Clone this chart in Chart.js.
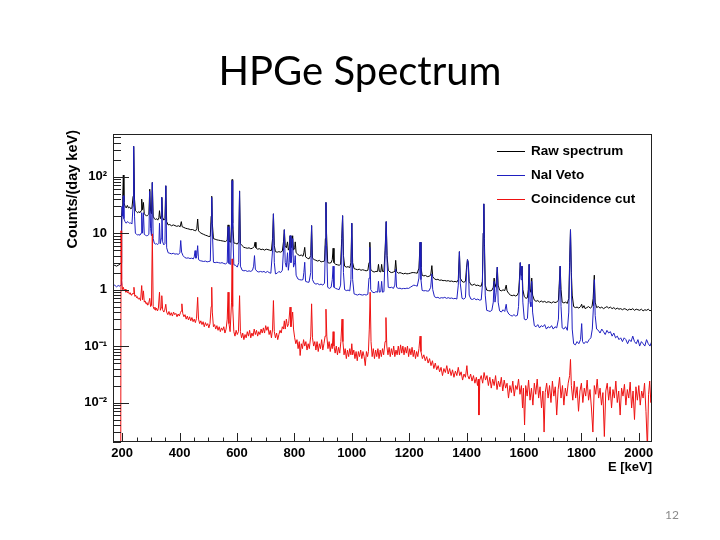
<!DOCTYPE html>
<html>
<head>
<meta charset="utf-8">
<script src="https://cdn.jsdelivr.net/npm/chart.js@4.4.1/dist/chart.umd.min.js"></script>
<style>
  html, body { margin: 0; padding: 0; background: #fff; }
  #slide { position: relative; width: 720px; height: 540px; overflow: hidden; }
  #chart-box { position: absolute; left: 0; top: 0; width: 720px; height: 540px; }
  #title { position: absolute; left: 0; top: 46px; width: 720px; text-align: center;
           font-family: Lato, "Open Sans", sans-serif; font-size: 40px; line-height: 48px; color: #000; }
  #page { position: absolute; right: 41px; top: 508px; font-family: Lato, sans-serif;
          font-size: 12px; line-height: 14px; color: #8a8a8a; }
</style>
</head>
<body>
<div id="slide">
  <div id="chart-box"><canvas id="spectrum"></canvas></div>
  <div id="title">HPGe Spectrum</div>
  <div id="page">12</div>
</div>
<script>
const energyMin = 168;
const energyMax = 2046;
const countsMin = 0.002;
const countsMax = 570;
const energyTicks = [200, 400, 600, 800, 1000, 1200, 1400, 1600, 1800, 2000];
const countTicks = [0.01, 0.1, 1, 10, 100];
const countTickLabels = ["10\u207B\u00B2", "10\u207B\u00B9", "1", "10", "10\u00B2"];
const seriesLabels = ["Raw spectrum", "NaI Veto", "Coincidence cut"];
const seriesColors = ["#000000", "#1f1fc0", "#ee1111"];

// [energy keV, counts/(day keV)]
const rawSpectrum = [
  [168,2.6],[174,2.7],[180,2.6],[186,2.7],[192,2.8],[196,3.0],[198,20],[200,30],[202,45],[204,107],[206,35],[210,30],[214,28],[218,31],[222,28],[226,29],[230,27],[234,28],[238,45],[240,345],[243,40],[246,25],[250,24],[254,23],[258,24],[262,23],[266,25],[268,40],[271,26],[274,35],[277,22],[281,21],[285,20],[289,21],[293,22],[296,60],[299,24],[302,22],[305,79],[308,20],[312,18],[316,17.5],[320,18],[324,17],[328,19],[330,25],[333,18],[336,20],[338,43],[341,19],[345,17],[349,18],[352,69],[355,16],[360,14],[366,14.2],[372,13.5],[378,14],[384,13.6],[390,13.2],[396,13.5],[402,13],[406,16],[409,13],[415,12.6],[421,12.2],[427,12],[433,11.8],[439,11.5],[445,11.6],[451,11.2],[456,11],[460,12],[463,17.8],[466,11],[472,10.2],[478,9.8],[484,9.5],[490,9.2],[496,9],[502,8.7],[507,8.8],[510,20],[512,45],[514,15],[518,8],[524,7.8],[530,7.6],[536,7.5],[542,7.4],[548,7.3],[554,7.2],[560,7.1],[566,7.5],[569,14],[572,7.2],[578,6.9],[581,15],[583,89],[585,15],[589,6.7],[595,6.6],[601,6.4],[606,7],[609,56],[612,6.5],[618,6],[624,5.6],[630,5.5],[636,5.4],[642,5.5],[648,5.3],[654,5.4],[660,5.8],[663,6.9],[666,5.5],[672,5.2],[678,5.3],[684,5.1],[690,5.2],[696,5.0],[702,5.2],[708,5.1],[714,5.0],[720,4.9],[724,8],[727,22],[730,6],[734,4.7],[740,4.6],[746,4.7],[752,4.6],[758,4.8],[762,7],[765,11.5],[768,6],[772,5.5],[776,7],[779,5],[782,5.5],[785,9],[788,5.5],[791,6],[794,9],[797,5],[801,5.5],[803,7],[806,4.5],[812,4.2],[818,4.0],[824,4.1],[830,3.9],[833,4.5],[836,5.6],[839,3.8],[845,3.6],[851,3.5],[857,4.0],[860,13.6],[863,3.6],[869,3.4],[875,3.3],[881,3.2],[887,3.3],[893,3.1],[899,3.15],[905,3.2],[908,8],[910,35],[912,10],[916,3.0],[922,2.95],[928,3.0],[932,3.4],[935,5.4],[938,3.0],[944,2.8],[950,2.75],[956,2.7],[961,2.8],[965,8],[968,20.4],[971,4],[975,2.6],[981,2.5],[987,2.55],[993,2.45],[997,3],[1000,15],[1003,3],[1008,2.35],[1014,2.3],[1020,2.25],[1026,2.3],[1032,2.2],[1038,2.25],[1044,2.2],[1050,2.15],[1056,2.2],[1060,3],[1063,6.9],[1066,2.3],[1072,2.1],[1078,2.05],[1084,2.1],[1090,2.1],[1093,2.8],[1096,2.1],[1101,2.05],[1104,2.8],[1107,2.1],[1112,2.1],[1116,5],[1120,16],[1123,4],[1127,2.2],[1133,2.05],[1139,2.0],[1145,2.05],[1150,2.1],[1153,3.3],[1156,2.1],[1162,1.95],[1168,2.0],[1174,1.95],[1180,1.9],[1186,1.95],[1192,1.9],[1198,1.92],[1204,1.95],[1210,2.0],[1216,2.0],[1222,1.98],[1228,1.95],[1234,2.4],[1238,6.9],[1241,2.5],[1245,1.8],[1251,1.75],[1257,1.78],[1263,1.7],[1269,1.72],[1275,1.8],[1279,2.66],[1282,1.7],[1288,1.55],[1294,1.5],[1300,1.52],[1306,1.46],[1312,1.48],[1318,1.44],[1324,1.45],[1330,1.42],[1336,1.44],[1342,1.4],[1348,1.42],[1354,1.38],[1360,1.4],[1366,1.36],[1371,1.5],[1375,4.7],[1378,1.6],[1384,1.4],[1390,1.35],[1396,1.4],[1400,2.5],[1403,3.4],[1406,3.0],[1409,1.4],[1415,1.22],[1421,1.2],[1427,1.25],[1433,1.18],[1439,1.2],[1445,1.16],[1451,1.15],[1455,1.4],[1458,10],[1460,33],[1462,8],[1465,1.2],[1470,0.98],[1476,0.96],[1482,0.95],[1488,0.97],[1493,1.1],[1496,1.6],[1499,1.1],[1503,1.3],[1507,2.5],[1510,1.2],[1515,0.98],[1521,0.95],[1527,0.99],[1533,0.96],[1538,1.2],[1541,0.95],[1547,0.85],[1553,0.8],[1559,0.78],[1565,0.8],[1571,0.77],[1577,0.8],[1581,0.9],[1584,1.5],[1587,3.0],[1590,1.8],[1593,2.6],[1596,1.0],[1601,0.75],[1607,0.7],[1612,0.72],[1615,1.0],[1618,2.8],[1621,1.0],[1624,0.9],[1627,1.6],[1630,0.8],[1636,0.65],[1642,0.62],[1648,0.64],[1654,0.6],[1660,0.63],[1666,0.6],[1672,0.62],[1678,0.59],[1684,0.61],[1690,0.6],[1696,0.58],[1702,0.61],[1708,0.59],[1714,0.6],[1720,0.65],[1723,1.3],[1726,2.6],[1729,1.0],[1733,0.6],[1739,0.58],[1745,0.6],[1751,0.57],[1756,0.7],[1759,3],[1762,11.5],[1765,2],[1768,0.8],[1773,0.5],[1779,0.48],[1785,0.49],[1791,0.47],[1797,0.5],[1801,0.55],[1804,0.47],[1809,0.52],[1813,0.46],[1819,0.48],[1825,0.5],[1831,0.47],[1837,0.5],[1841,0.7],[1845,1.8],[1848,0.6],[1853,0.48],[1859,0.5],[1865,0.47],[1871,0.49],[1877,0.46],[1883,0.48],[1889,0.5],[1895,0.47],[1901,0.49],[1907,0.46],[1913,0.48],[1919,0.45],[1925,0.47],[1931,0.45],[1937,0.46],[1943,0.44],[1949,0.46],[1955,0.45],[1961,0.43],[1967,0.45],[1973,0.44],[1979,0.46],[1985,0.43],[1991,0.45],[1997,0.44],[2003,0.43],[2009,0.45],[2015,0.42],[2021,0.44],[2027,0.43],[2033,0.45],[2039,0.42],[2045,0.44]
];

const naiVeto = [
  [168,1.15],[174,1.2],[180,1.12],[186,1.18],[192,1.15],[196,1.2],[198,12],[200,30],[202,20],[204,46],[206,18],[210,16],[214,15],[218,16],[222,15.5],[226,15],[230,15.2],[234,14.5],[238,30],[240,345],[243,20],[246,10],[250,9.5],[254,9.3],[258,9.4],[262,9.2],[266,10],[268,23],[271,10],[274,23],[277,9.5],[281,9.2],[285,9],[289,9.1],[293,9.5],[296,55],[299,12],[302,9],[305,79],[308,8],[312,6.6],[316,6.4],[320,6.5],[324,6.3],[328,6.6],[330,15],[333,6.5],[336,8],[338,43],[341,7],[345,6.2],[349,6.5],[352,69],[355,5.5],[360,4.5],[366,4.4],[372,4.3],[378,4.4],[384,4.25],[390,4.3],[396,4.2],[401,4.5],[404,7.4],[407,4.6],[412,4.0],[418,3.7],[424,3.6],[430,3.65],[436,3.55],[442,3.6],[448,3.5],[451,3.8],[454,4.9],[457,3.6],[460,4],[463,6],[466,3.4],[472,3.25],[478,3.2],[484,3.15],[490,3.2],[496,3.1],[502,3.15],[507,3.2],[510,15],[512,43],[514,12],[518,3.05],[524,3.0],[530,3.05],[536,3.0],[542,2.95],[548,3.0],[554,2.9],[560,2.85],[566,3.0],[569,13],[572,2.9],[578,2.8],[581,12],[583,85],[585,12],[589,2.75],[595,2.7],[601,2.5],[606,3],[609,55],[612,2.6],[618,2.2],[624,2.15],[630,2.18],[636,2.1],[642,2.15],[648,2.1],[654,2.2],[658,2.6],[661,4.0],[664,2.3],[670,2.1],[676,2.05],[682,2.1],[688,2.05],[694,2.1],[700,2.0],[706,2.1],[712,2.0],[718,1.95],[724,5],[727,22],[730,3],[734,1.9],[740,1.95],[746,2.1],[752,2.0],[758,2.2],[762,5],[765,11.5],[768,3],[772,2.5],[776,4.5],[779,2.2],[782,3],[785,9],[788,3],[791,4],[794,8],[797,2.5],[801,3],[803,4],[806,1.8],[812,1.55],[818,1.5],[824,1.48],[830,1.5],[833,2.0],[836,3.05],[839,1.4],[845,1.36],[851,1.35],[857,2],[860,13.6],[863,1.5],[869,1.3],[875,1.25],[881,1.28],[887,1.22],[893,1.25],[899,1.2],[905,1.3],[908,6],[910,35],[912,6],[916,1.1],[922,1.05],[928,1.1],[932,1.5],[935,2.6],[938,1.1],[944,1.05],[950,1.02],[956,1.0],[961,1.2],[965,6],[968,20.4],[971,2],[975,1.0],[981,0.96],[987,0.98],[993,0.95],[997,1.5],[1000,15],[1003,1.5],[1008,0.84],[1014,0.82],[1020,0.8],[1026,0.83],[1032,0.81],[1038,0.8],[1044,0.82],[1050,0.8],[1056,0.83],[1060,1.6],[1063,5.6],[1066,1.0],[1072,0.9],[1078,0.88],[1084,0.92],[1090,0.9],[1093,1.4],[1096,0.9],[1101,0.92],[1104,1.4],[1107,0.9],[1112,0.92],[1116,4],[1120,16],[1123,3],[1127,1.1],[1133,1.08],[1139,1.1],[1145,1.05],[1150,1.2],[1153,2.3],[1156,1.1],[1162,1.05],[1168,1.06],[1174,1.03],[1180,1.05],[1186,1.04],[1192,1.06],[1198,1.05],[1204,1.1],[1210,1.15],[1216,1.2],[1222,1.18],[1228,1.15],[1234,1.6],[1238,6.9],[1241,1.5],[1245,0.97],[1251,0.95],[1257,0.96],[1263,0.94],[1269,0.95],[1275,1.1],[1279,1.9],[1282,1.0],[1288,0.75],[1294,0.72],[1300,0.73],[1306,0.7],[1312,0.72],[1318,0.71],[1324,0.73],[1330,0.7],[1336,0.72],[1342,0.7],[1348,0.71],[1354,0.69],[1360,0.7],[1366,0.68],[1371,1.2],[1375,4.7],[1378,1.3],[1384,0.7],[1390,0.68],[1396,0.72],[1400,2.0],[1403,3.4],[1406,3.0],[1409,0.8],[1415,0.68],[1421,0.67],[1427,0.7],[1433,0.66],[1439,0.68],[1445,0.65],[1451,0.66],[1455,1.2],[1458,10],[1460,33],[1462,6],[1465,0.8],[1470,0.43],[1476,0.42],[1482,0.41],[1488,0.43],[1493,0.6],[1496,1.4],[1499,0.6],[1503,0.9],[1507,2.5],[1510,0.6],[1515,0.42],[1521,0.4],[1527,0.44],[1533,0.41],[1538,0.55],[1541,0.42],[1547,0.37],[1553,0.35],[1559,0.34],[1565,0.36],[1571,0.34],[1577,0.35],[1581,0.5],[1584,1.2],[1587,3.0],[1590,1.5],[1593,2.6],[1596,0.6],[1601,0.3],[1607,0.29],[1612,0.31],[1615,0.6],[1618,2.8],[1621,0.6],[1624,0.5],[1627,1.4],[1630,0.4],[1636,0.23],[1642,0.22],[1648,0.24],[1654,0.21],[1660,0.23],[1666,0.22],[1672,0.24],[1678,0.2],[1684,0.22],[1690,0.21],[1696,0.23],[1702,0.2],[1708,0.22],[1714,0.21],[1720,0.3],[1723,1.0],[1726,2.6],[1729,0.5],[1733,0.21],[1739,0.2],[1745,0.22],[1751,0.19],[1756,0.4],[1759,2.5],[1762,11.5],[1765,1.5],[1768,0.2],[1773,0.11],[1779,0.105],[1785,0.12],[1791,0.11],[1797,0.13],[1801,0.25],[1804,0.12],[1809,0.11],[1815,0.12],[1821,0.115],[1827,0.13],[1833,0.14],[1838,0.2],[1842,0.5],[1845,1.5],[1848,0.35],[1853,0.2],[1859,0.19],[1865,0.17],[1871,0.2],[1877,0.18],[1883,0.16],[1889,0.19],[1895,0.17],[1901,0.18],[1907,0.15],[1913,0.17],[1919,0.14],[1925,0.15],[1931,0.13],[1937,0.14],[1943,0.12],[1949,0.14],[1955,0.13],[1961,0.11],[1967,0.13],[1973,0.12],[1979,0.15],[1985,0.12],[1991,0.11],[1997,0.13],[2003,0.1],[2009,0.12],[2015,0.11],[2021,0.1],[2027,0.13],[2033,0.11],[2039,0.1],[2045,0.12]
];

const coincidenceCut = [
  [168,0.001],[195,0.001],[196,11],[198,1.5],[201,1.0],[204,1.1],[207,0.95],[210,1.02],[213,0.9],[216,0.97],[219,0.88],[222,0.92],[225,0.83],[228,0.88],[231,0.8],[234,0.84],[238,0.85],[241,1.1],[244,0.76],[247,0.8],[250,0.72],[253,0.75],[256,0.68],[260,0.71],[264,0.64],[268,1.18],[271,0.66],[274,0.95],[277,0.6],[280,0.63],[283,0.56],[286,0.59],[289,0.53],[292,0.56],[296,0.7],[299,0.5],[302,0.52],[305,9.7],[308,0.5],[311,0.45],[314,0.49],[317,0.43],[320,0.47],[323,0.42],[326,0.46],[330,0.9],[333,0.43],[336,0.48],[338,0.78],[341,0.44],[345,0.4],[348,0.43],[352,0.55],[355,0.4],[359,0.36],[363,0.41],[367,0.35],[371,0.39],[375,0.34],[379,0.4],[383,0.36],[387,0.38],[391,0.33],[395,0.37],[399,0.34],[403,0.39],[406,0.42],[408,0.56],[411,0.38],[415,0.33],[419,0.36],[423,0.3],[427,0.34],[431,0.29],[435,0.33],[439,0.28],[443,0.32],[447,0.27],[451,0.3],[455,0.26],[459,0.31],[463,0.73],[466,0.3],[470,0.25],[474,0.28],[478,0.24],[482,0.27],[486,0.22],[490,0.26],[494,0.23],[498,0.25],[502,0.21],[506,0.25],[510,0.5],[512,1.1],[514,0.4],[518,0.22],[522,0.24],[526,0.2],[530,0.23],[534,0.19],[538,0.22],[542,0.18],[546,0.21],[550,0.19],[554,0.22],[558,0.17],[562,0.2],[566,0.3],[569,0.9],[572,0.25],[576,0.18],[581,0.6],[583,3.5],[585,0.5],[589,0.18],[593,0.15],[597,0.19],[601,0.16],[605,0.18],[609,0.78],[612,0.18],[616,0.14],[620,0.17],[624,0.13],[628,0.16],[632,0.14],[636,0.18],[640,0.15],[644,0.19],[648,0.14],[652,0.17],[656,0.15],[660,0.2],[664,0.16],[668,0.19],[672,0.15],[676,0.18],[680,0.16],[684,0.2],[688,0.17],[692,0.21],[696,0.17],[700,0.23],[704,0.19],[708,0.22],[712,0.16],[716,0.19],[720,0.14],[724,0.2],[727,0.64],[730,0.18],[734,0.14],[738,0.17],[742,0.13],[746,0.16],[750,0.19],[754,0.17],[758,0.22],[762,0.2],[765,0.28],[768,0.2],[772,0.3],[776,0.22],[780,0.25],[785,0.49],[788,0.22],[791,0.3],[794,0.4],[797,0.2],[801,0.14],[805,0.11],[809,0.13],[813,0.09],[817,0.12],[820,0.068],[824,0.11],[828,0.09],[832,0.13],[836,0.1],[840,0.12],[844,0.085],[848,0.11],[852,0.09],[857,0.15],[860,0.56],[863,0.14],[867,0.1],[871,0.12],[875,0.085],[879,0.12],[883,0.08],[887,0.11],[891,0.09],[895,0.13],[899,0.085],[903,0.11],[907,0.15],[910,0.45],[913,0.15],[917,0.09],[921,0.12],[925,0.08],[929,0.11],[932,0.09],[935,0.18],[938,0.1],[942,0.075],[946,0.1],[950,0.07],[954,0.095],[958,0.075],[962,0.12],[966,0.3],[969,0.12],[973,0.07],[977,0.09],[981,0.06],[985,0.085],[989,0.065],[993,0.09],[997,0.07],[1000,0.11],[1003,0.07],[1007,0.085],[1011,0.06],[1015,0.08],[1019,0.055],[1023,0.08],[1027,0.065],[1031,0.085],[1035,0.06],[1039,0.08],[1043,0.065],[1047,0.045],[1051,0.08],[1055,0.065],[1058,0.08],[1061,0.2],[1064,0.9],[1067,0.12],[1071,0.065],[1075,0.09],[1079,0.06],[1083,0.085],[1087,0.065],[1091,0.09],[1095,0.06],[1099,0.085],[1103,0.065],[1107,0.09],[1111,0.07],[1116,0.12],[1119,0.32],[1122,0.1],[1126,0.07],[1130,0.095],[1134,0.065],[1138,0.09],[1142,0.07],[1146,0.1],[1150,0.065],[1154,0.085],[1158,0.07],[1162,0.1],[1166,0.07],[1170,0.105],[1174,0.075],[1178,0.1],[1182,0.07],[1186,0.095],[1190,0.075],[1194,0.1],[1198,0.065],[1202,0.09],[1206,0.07],[1210,0.095],[1214,0.065],[1218,0.085],[1222,0.06],[1226,0.08],[1230,0.065],[1234,0.09],[1238,0.15],[1241,0.08],[1246,0.06],[1251,0.07],[1256,0.055],[1261,0.065],[1266,0.05],[1271,0.06],[1276,0.045],[1281,0.055],[1286,0.04],[1291,0.05],[1296,0.038],[1301,0.045],[1306,0.035],[1311,0.042],[1316,0.03],[1321,0.04],[1326,0.034],[1331,0.045],[1336,0.032],[1341,0.04],[1346,0.03],[1351,0.038],[1356,0.028],[1361,0.036],[1366,0.03],[1371,0.042],[1376,0.03],[1381,0.035],[1386,0.025],[1391,0.032],[1396,0.028],[1401,0.045],[1404,0.03],[1409,0.026],[1414,0.032],[1419,0.024],[1424,0.03],[1429,0.022],[1434,0.028],[1438,0.02],[1441,0.026],[1443,0.006],[1446,0.025],[1451,0.03],[1456,0.022],[1461,0.034],[1466,0.025],[1471,0.03],[1476,0.02],[1481,0.028],[1486,0.018],[1491,0.026],[1496,0.02],[1501,0.03],[1506,0.017],[1511,0.024],[1516,0.019],[1521,0.028],[1526,0.016],[1531,0.025],[1536,0.018],[1541,0.022],[1546,0.012],[1551,0.02],[1556,0.015],[1561,0.024],[1566,0.013],[1571,0.02],[1576,0.017],[1581,0.026],[1586,0.014],[1591,0.02],[1595,0.008],[1598,0.018],[1602,0.004],[1606,0.02],[1611,0.013],[1616,0.025],[1621,0.011],[1626,0.018],[1631,0.009],[1636,0.022],[1641,0.014],[1646,0.026],[1651,0.012],[1656,0.019],[1661,0.008],[1666,0.016],[1670,0.003],[1674,0.015],[1679,0.022],[1684,0.012],[1689,0.02],[1694,0.01],[1699,0.024],[1704,0.013],[1709,0.019],[1714,0.006],[1719,0.017],[1724,0.028],[1729,0.012],[1734,0.02],[1739,0.009],[1744,0.018],[1749,0.013],[1754,0.022],[1759,0.03],[1762,0.058],[1765,0.02],[1770,0.011],[1775,0.024],[1780,0.012],[1785,0.019],[1790,0.007],[1795,0.016],[1800,0.022],[1805,0.01],[1810,0.018],[1815,0.013],[1820,0.025],[1825,0.011],[1830,0.017],[1835,0.008],[1840,0.003],[1845,0.02],[1850,0.014],[1855,0.026],[1860,0.012],[1865,0.018],[1870,0.009],[1875,0.015],[1880,0.0025],[1885,0.016],[1890,0.022],[1895,0.011],[1900,0.019],[1905,0.008],[1910,0.017],[1915,0.012],[1920,0.024],[1925,0.01],[1930,0.016],[1935,0.006],[1940,0.018],[1945,0.013],[1950,0.021],[1955,0.009],[1960,0.017],[1965,0.012],[1970,0.023],[1975,0.008],[1980,0.016],[1985,0.005],[1990,0.019],[1995,0.011],[2000,0.02],[2005,0.009],[2010,0.016],[2015,0.012],[2020,0.022],[2025,0.007],[2030,0.0015],[2034,0.014],[2038,0.024],[2042,0.01],[2046,0.016]
];

const axisFont = "'Liberation Sans', Arial, Helvetica, sans-serif";

function toPoints(pairs) {
    return pairs.map(([x, y]) => ({ x: x, y: y }));
}

// ROOT style frame: box, inward ticks, axis titles and legend
const rootFrame = {
    id: "rootFrame",
    afterDatasetsDraw(chart) {
        const { ctx, chartArea: a, scales } = chart;
        const xs = scales.x;
        const ys = scales.y;
        ctx.save();
        ctx.strokeStyle = "#222";
        ctx.lineWidth = 1;
        ctx.strokeRect(a.left + 0.5, a.top + 0.5, a.right - a.left - 1, a.bottom - a.top - 1);

        ctx.beginPath();
        for (let e = 200; e <= energyMax; e += 50) {
            const px = Math.round(xs.getPixelForValue(e)) + 0.5;
            const len = e % 200 === 0 ? 9 : 4.5;
            ctx.moveTo(px, a.bottom);
            ctx.lineTo(px, a.bottom - len);
        }
        for (let d = -3; d <= 2; d++) {
            for (let m = 1; m <= 9; m++) {
                const v = m * Math.pow(10, d);
                if (v < countsMin || v > countsMax) continue;
                const py = Math.round(ys.getPixelForValue(v)) + 0.5;
                const len = m === 1 ? 16 : 8;
                ctx.moveTo(a.left, py);
                ctx.lineTo(a.left + len, py);
            }
        }
        ctx.stroke();

        ctx.fillStyle = "#000";
        ctx.font = "bold 13px " + axisFont;
        ctx.textBaseline = "middle";
        ctx.textAlign = "right";
        ctx.fillText("E [keV]", a.right, a.bottom + 25);

        ctx.save();
        ctx.font = "bold 14.5px " + axisFont;
        ctx.translate(a.left - 40, a.top - 4);
        ctx.rotate(-Math.PI / 2);
        ctx.textAlign = "right";
        ctx.fillText("Counts/(day keV)", 0, 0);
        ctx.restore();

        ctx.font = "bold 13.5px " + axisFont;
        ctx.textAlign = "left";
        seriesLabels.forEach((label, i) => {
            const ly = Math.round(a.top + 17 + i * 24);
            ctx.fillStyle = seriesColors[i];
            ctx.fillRect(a.right - 155, ly, 28, 1);
            ctx.fillStyle = "#000";
            ctx.fillText(label, a.right - 121, ly);
        });
        ctx.restore();
    }
};

const seriesData = [rawSpectrum, naiVeto, coincidenceCut];

new Chart(document.getElementById("spectrum"), {
    type: "line",
    data: {
        datasets: seriesData.map((pairs, i) => ({
            label: seriesLabels[i],
            data: toPoints(pairs),
            borderColor: seriesColors[i],
            borderWidth: 1,
            pointRadius: 0,
            tension: 0,
            fill: false,
            order: 3 - i
        }))
    },
    options: {
        responsive: true,
        maintainAspectRatio: false,
        animation: false,
        layout: { padding: { left: 0, right: 68, top: 134, bottom: 0 } },
        plugins: {
            legend: { display: false },
            tooltip: { enabled: false },
            title: { display: false }
        },
        scales: {
            x: {
                type: "linear",
                min: energyMin,
                max: energyMax,
                grid: { display: false, drawTicks: false },
                border: { display: false },
                afterBuildTicks: (scale) => {
                    scale.ticks = energyTicks.map((v) => ({ value: v }));
                },
                afterFit: (scale) => { scale.height = 98; },
                ticks: {
                    autoSkip: false,
                    maxRotation: 0,
                    padding: 4,
                    color: "#000",
                    font: { family: axisFont, weight: "bold", size: 13 },
                    callback: (v) => String(v)
                }
            },
            y: {
                type: "logarithmic",
                min: countsMin,
                max: countsMax,
                grid: { display: false, drawTicks: false },
                border: { display: false },
                afterBuildTicks: (scale) => {
                    scale.ticks = countTicks.map((v) => ({ value: v }));
                },
                afterFit: (scale) => { scale.width = 113; },
                ticks: {
                    autoSkip: false,
                    padding: 6,
                    color: "#000",
                    font: { family: axisFont, weight: "bold", size: 13 },
                    callback: (v) => {
                        const i = countTicks.findIndex((t) => Math.abs(t - v) / t < 1e-6);
                        return i >= 0 ? countTickLabels[i] : "";
                    }
                }
            }
        }
    },
    plugins: [rootFrame]
});
</script>
</body>
</html>
